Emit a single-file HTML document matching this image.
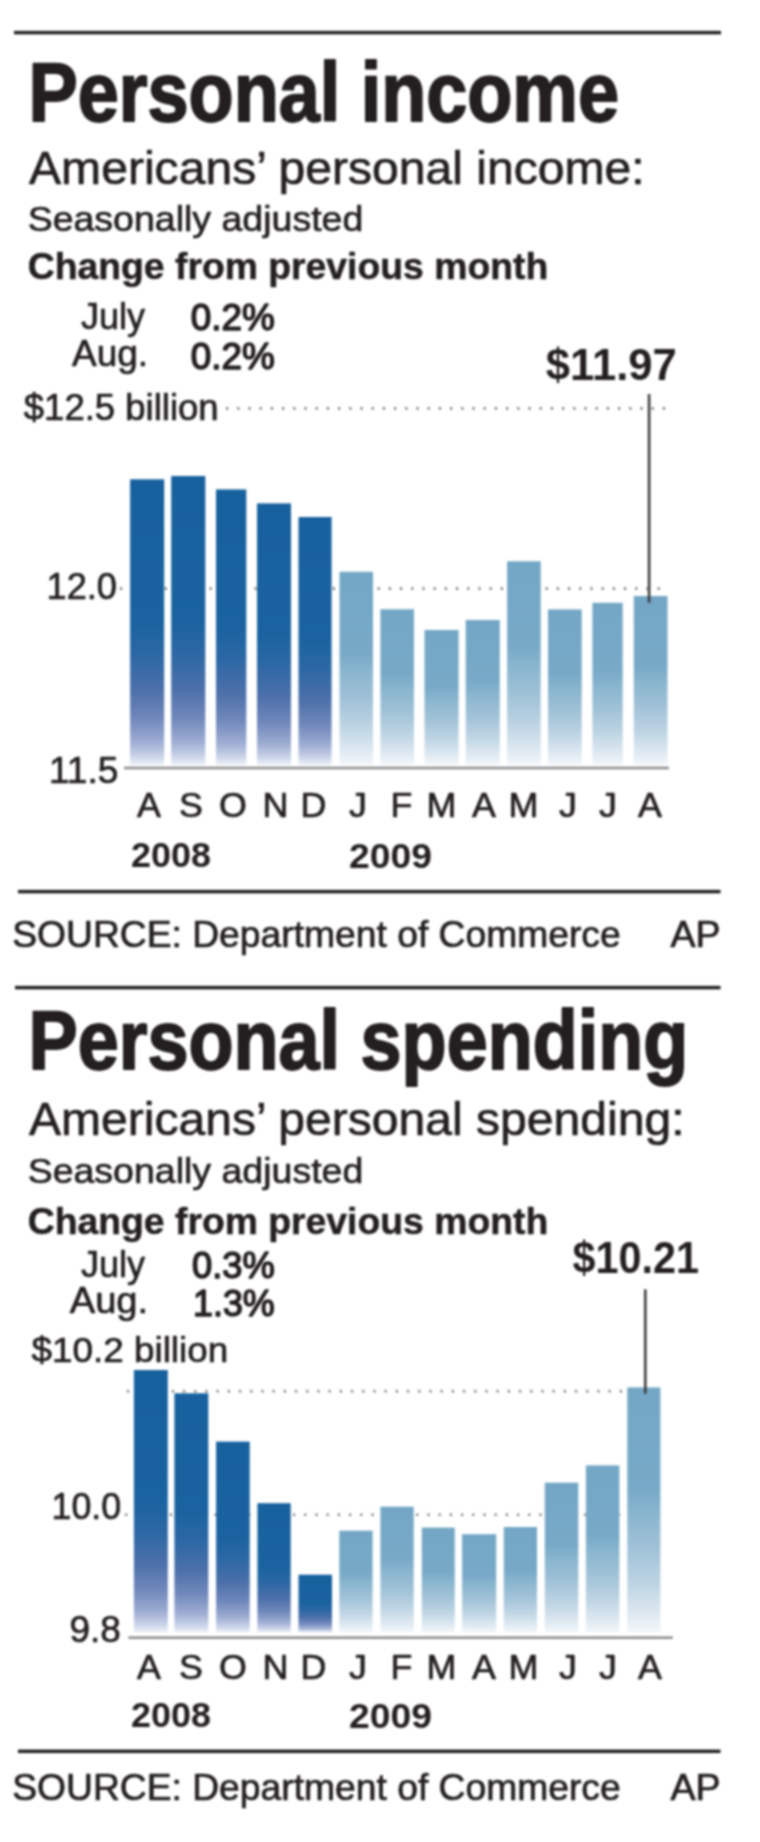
<!DOCTYPE html>
<html><head><meta charset="utf-8"><title>Personal income and spending</title>
<style>
html,body{margin:0;padding:0;background:#fff;}
body{width:760px;height:1842px;overflow:hidden;}
svg{display:block;}
#w{filter:blur(1px);width:760px;height:1842px;}
text{font-family:'Liberation Sans', Arial, Helvetica, sans-serif;fill:#231f20;}
</style></head><body>
<div id="w"><svg width="760" height="1842" viewBox="0 0 760 1842">
<defs>
<linearGradient id="gd" x1="0" y1="0" x2="0" y2="1">
<stop offset="0" stop-color="#17619e"/><stop offset="0.5" stop-color="#1a63a0"/><stop offset="0.62" stop-color="#2d68a5"/>
<stop offset="0.74" stop-color="#4d70aa"/><stop offset="0.84" stop-color="#7189bc"/><stop offset="0.92" stop-color="#9eadd3"/>
<stop offset="0.97" stop-color="#cad3e8"/><stop offset="1" stop-color="#eef2f8"/>
</linearGradient>
<linearGradient id="gl" x1="0" y1="0" x2="0" y2="1">
<stop offset="0" stop-color="#73a7c5"/><stop offset="0.42" stop-color="#78aac8"/><stop offset="0.52" stop-color="#8ab6cf"/>
<stop offset="0.65" stop-color="#9fc1d7"/><stop offset="0.8" stop-color="#bdd4e3"/><stop offset="0.92" stop-color="#dde8f1"/>
<stop offset="1" stop-color="#f3f7fa"/>
</linearGradient>
</defs>
<rect x="14.0" y="30.90" width="707.0" height="3.40" fill="#1e1e1e"/>
<rect x="18.0" y="889.90" width="702.5" height="3.40" fill="#1e1e1e"/>
<rect x="15.0" y="985.90" width="705.5" height="3.40" fill="#1e1e1e"/>
<rect x="18.0" y="1749.60" width="702.5" height="3.40" fill="#1e1e1e"/>
<line x1="120.0" y1="588.6" x2="667.5" y2="588.6" stroke="#7f7f7f" stroke-width="2.6" stroke-dasharray="2.2 9"/>
<rect x="130.1" y="479.3" width="34.1" height="285.7" fill="url(#gd)"/>
<rect x="171.2" y="476.0" width="34.1" height="289.0" fill="url(#gd)"/>
<rect x="216.0" y="489.4" width="30.3" height="275.6" fill="url(#gd)"/>
<rect x="257.0" y="503.4" width="34.0" height="261.6" fill="url(#gd)"/>
<rect x="298.5" y="517.0" width="33.1" height="248.0" fill="url(#gd)"/>
<rect x="339.5" y="571.8" width="33.5" height="193.2" fill="url(#gl)"/>
<rect x="380.4" y="609.2" width="33.6" height="155.8" fill="url(#gl)"/>
<rect x="424.5" y="630.0" width="34.1" height="135.0" fill="url(#gl)"/>
<rect x="465.7" y="620.0" width="34.1" height="145.0" fill="url(#gl)"/>
<rect x="507.1" y="561.3" width="33.6" height="203.7" fill="url(#gl)"/>
<rect x="548.0" y="609.4" width="33.7" height="155.6" fill="url(#gl)"/>
<rect x="592.4" y="602.8" width="30.3" height="162.2" fill="url(#gl)"/>
<rect x="633.8" y="596.0" width="33.7" height="169.0" fill="url(#gl)"/>
<line x1="226.0" y1="408.4" x2="667.5" y2="408.4" stroke="#7f7f7f" stroke-width="2.6" stroke-dasharray="2.2 9"/>
<rect x="124.0" y="766.70" width="545.0" height="2.60" fill="#8f8f8f"/>
<rect x="647.8" y="394" width="2.6" height="208.8" fill="#3c3c3c"/>
<line x1="125.0" y1="1514.8" x2="660.0" y2="1514.8" stroke="#7f7f7f" stroke-width="2.6" stroke-dasharray="2.2 9"/>
<line x1="127.0" y1="1391.3" x2="660.0" y2="1391.3" stroke="#7f7f7f" stroke-width="2.6" stroke-dasharray="2.2 9"/>
<rect x="133.9" y="1370.0" width="33.9" height="262.5" fill="url(#gd)"/>
<rect x="174.4" y="1393.3" width="33.9" height="239.2" fill="url(#gd)"/>
<rect x="216.1" y="1441.6" width="33.6" height="190.9" fill="url(#gd)"/>
<rect x="257.4" y="1503.2" width="33.3" height="129.3" fill="url(#gd)"/>
<rect x="298.5" y="1574.7" width="33.5" height="57.8" fill="url(#gd)"/>
<rect x="339.3" y="1530.7" width="33.3" height="101.8" fill="url(#gl)"/>
<rect x="380.4" y="1506.7" width="33.3" height="125.8" fill="url(#gl)"/>
<rect x="421.8" y="1527.6" width="33.0" height="104.9" fill="url(#gl)"/>
<rect x="462.1" y="1534.2" width="34.1" height="98.3" fill="url(#gl)"/>
<rect x="503.8" y="1527.0" width="33.2" height="105.5" fill="url(#gl)"/>
<rect x="544.8" y="1482.7" width="33.5" height="149.8" fill="url(#gl)"/>
<rect x="585.9" y="1465.4" width="33.5" height="167.1" fill="url(#gl)"/>
<rect x="627.3" y="1387.4" width="33.1" height="245.1" fill="url(#gl)"/>
<rect x="128.3" y="1636.40" width="544.5" height="2.60" fill="#8f8f8f"/>
<rect x="644" y="1289.3" width="2.6" height="104.4" fill="#3c3c3c"/>
<text transform="translate(28.61 120.60) scale(0.8782 1)" font-weight="bold" font-size="84" stroke="#231f20" stroke-width="2" stroke-linejoin="round">Personal income</text>
<text transform="translate(29.00 183.65) scale(1.0347 1)" font-weight="normal" font-size="46.5" stroke="#231f20" stroke-width="0.7" stroke-linejoin="round">Americans’ personal income:</text>
<text transform="translate(27.66 231.15) scale(1.0417 1)" font-weight="normal" font-size="36" stroke="#231f20" stroke-width="0.7" stroke-linejoin="round">Seasonally adjusted</text>
<text transform="translate(27.70 279.25) scale(0.9958 1)" font-weight="bold" font-size="37.5" stroke="#231f20" stroke-width="0.5" stroke-linejoin="round">Change from previous month</text>
<text transform="translate(81.00 329.15) scale(0.9597 1)" font-weight="normal" font-size="37.5" stroke="#231f20" stroke-width="0.7" stroke-linejoin="round">July</text>
<text transform="translate(190.68 330.25) scale(1.0160 1)" font-weight="normal" font-size="36.3" stroke="#231f20" stroke-width="1.5" stroke-linejoin="round">0.2%</text>
<text transform="translate(72.00 366.15) scale(0.9865 1)" font-weight="normal" font-size="37.5" stroke="#231f20" stroke-width="0.7" stroke-linejoin="round">Aug.</text>
<text transform="translate(190.68 368.75) scale(1.0160 1)" font-weight="normal" font-size="36.3" stroke="#231f20" stroke-width="1.5" stroke-linejoin="round">0.2%</text>
<text transform="translate(23.80 420.15) scale(1.0142 1)" font-weight="normal" font-size="36" stroke="#231f20" stroke-width="0.7" stroke-linejoin="round">$12.5 billion</text>
<text transform="translate(545.83 380.00) scale(0.9697 1)" font-weight="bold" font-size="45" stroke="#231f20" stroke-width="0.01" stroke-linejoin="round">$11.97</text>
<text transform="translate(46.53 598.65) scale(0.9826 1)" font-weight="normal" font-size="36.8" stroke="#231f20" stroke-width="0.7" stroke-linejoin="round">12.0</text>
<text transform="translate(48.98 782.85) scale(1.0091 1)" font-weight="normal" font-size="36.8" stroke="#231f20" stroke-width="0.7" stroke-linejoin="round">11.5</text>
<text x="137.00" y="817.05" font-weight="normal" font-size="35.8" stroke="#231f20" stroke-width="0.7" stroke-linejoin="round">A</text>
<text x="179.00" y="817.05" font-weight="normal" font-size="35.8" stroke="#231f20" stroke-width="0.7" stroke-linejoin="round">S</text>
<text x="219.00" y="817.05" font-weight="normal" font-size="35.8" stroke="#231f20" stroke-width="0.7" stroke-linejoin="round">O</text>
<text x="262.50" y="817.05" font-weight="normal" font-size="35.8" stroke="#231f20" stroke-width="0.7" stroke-linejoin="round">N</text>
<text x="300.50" y="817.05" font-weight="normal" font-size="35.8" stroke="#231f20" stroke-width="0.7" stroke-linejoin="round">D</text>
<text x="349.00" y="817.05" font-weight="normal" font-size="35.8" stroke="#231f20" stroke-width="0.7" stroke-linejoin="round">J</text>
<text x="390.50" y="817.05" font-weight="normal" font-size="35.8" stroke="#231f20" stroke-width="0.7" stroke-linejoin="round">F</text>
<text x="426.50" y="817.05" font-weight="normal" font-size="35.8" stroke="#231f20" stroke-width="0.7" stroke-linejoin="round">M</text>
<text x="472.00" y="817.05" font-weight="normal" font-size="35.8" stroke="#231f20" stroke-width="0.7" stroke-linejoin="round">A</text>
<text x="508.50" y="817.05" font-weight="normal" font-size="35.8" stroke="#231f20" stroke-width="0.7" stroke-linejoin="round">M</text>
<text x="559.00" y="817.05" font-weight="normal" font-size="35.8" stroke="#231f20" stroke-width="0.7" stroke-linejoin="round">J</text>
<text x="599.00" y="817.05" font-weight="normal" font-size="35.8" stroke="#231f20" stroke-width="0.7" stroke-linejoin="round">J</text>
<text x="638.00" y="817.05" font-weight="normal" font-size="35.8" stroke="#231f20" stroke-width="0.7" stroke-linejoin="round">A</text>
<text transform="translate(130.97 867.20) scale(1.0263 1)" font-weight="bold" font-size="35" stroke="#231f20" stroke-width="0.01" stroke-linejoin="round">2008</text>
<text transform="translate(348.93 867.70) scale(1.0658 1)" font-weight="bold" font-size="35" stroke="#231f20" stroke-width="0.01" stroke-linejoin="round">2009</text>
<text transform="translate(12.17 947.25) scale(1.0267 1)" font-weight="normal" font-size="36.3" stroke="#231f20" stroke-width="0.7" stroke-linejoin="round">SOURCE: Department of Commerce</text>
<text transform="translate(670.50 947.25) scale(1.0362 1)" font-weight="normal" font-size="36.3" stroke="#231f20" stroke-width="0.7" stroke-linejoin="round">AP</text>
<text transform="translate(28.61 1068.50) scale(0.8780 1)" font-weight="bold" font-size="84" stroke="#231f20" stroke-width="2" stroke-linejoin="round">Personal spending</text>
<text transform="translate(29.00 1135.35) scale(1.0341 1)" font-weight="normal" font-size="46.5" stroke="#231f20" stroke-width="0.7" stroke-linejoin="round">Americans’ personal spending:</text>
<text transform="translate(27.66 1183.05) scale(1.0417 1)" font-weight="normal" font-size="36" stroke="#231f20" stroke-width="0.7" stroke-linejoin="round">Seasonally adjusted</text>
<text transform="translate(27.70 1234.45) scale(0.9958 1)" font-weight="bold" font-size="37.5" stroke="#231f20" stroke-width="0.5" stroke-linejoin="round">Change from previous month</text>
<text transform="translate(81.00 1277.15) scale(0.9597 1)" font-weight="normal" font-size="37.5" stroke="#231f20" stroke-width="0.7" stroke-linejoin="round">July</text>
<text transform="translate(192.00 1278.25) scale(1.0000 1)" font-weight="normal" font-size="36.3" stroke="#231f20" stroke-width="1.5" stroke-linejoin="round">0.3%</text>
<text transform="translate(69.70 1313.15) scale(1.0176 1)" font-weight="normal" font-size="37.5" stroke="#231f20" stroke-width="0.7" stroke-linejoin="round">Aug.</text>
<text transform="translate(193.03 1315.75) scale(0.9875 1)" font-weight="normal" font-size="36.3" stroke="#231f20" stroke-width="1.5" stroke-linejoin="round">1.3%</text>
<text transform="translate(31.60 1362.15) scale(1.0232 1)" font-weight="normal" font-size="36" stroke="#231f20" stroke-width="0.7" stroke-linejoin="round">$10.2 billion</text>
<text transform="translate(572.58 1273.19) scale(0.9193 1)" font-weight="bold" font-size="45" stroke="#231f20" stroke-width="0.01" stroke-linejoin="round">$10.21</text>
<text transform="translate(51.56 1519.45) scale(0.9725 1)" font-weight="normal" font-size="36.8" stroke="#231f20" stroke-width="0.7" stroke-linejoin="round">10.0</text>
<text transform="translate(69.40 1642.15) scale(1.0041 1)" font-weight="normal" font-size="36.8" stroke="#231f20" stroke-width="0.7" stroke-linejoin="round">9.8</text>
<text x="137.00" y="1679.15" font-weight="normal" font-size="35.8" stroke="#231f20" stroke-width="0.7" stroke-linejoin="round">A</text>
<text x="179.00" y="1679.15" font-weight="normal" font-size="35.8" stroke="#231f20" stroke-width="0.7" stroke-linejoin="round">S</text>
<text x="219.00" y="1679.15" font-weight="normal" font-size="35.8" stroke="#231f20" stroke-width="0.7" stroke-linejoin="round">O</text>
<text x="262.50" y="1679.15" font-weight="normal" font-size="35.8" stroke="#231f20" stroke-width="0.7" stroke-linejoin="round">N</text>
<text x="300.50" y="1679.15" font-weight="normal" font-size="35.8" stroke="#231f20" stroke-width="0.7" stroke-linejoin="round">D</text>
<text x="349.00" y="1679.15" font-weight="normal" font-size="35.8" stroke="#231f20" stroke-width="0.7" stroke-linejoin="round">J</text>
<text x="390.50" y="1679.15" font-weight="normal" font-size="35.8" stroke="#231f20" stroke-width="0.7" stroke-linejoin="round">F</text>
<text x="426.50" y="1679.15" font-weight="normal" font-size="35.8" stroke="#231f20" stroke-width="0.7" stroke-linejoin="round">M</text>
<text x="472.00" y="1679.15" font-weight="normal" font-size="35.8" stroke="#231f20" stroke-width="0.7" stroke-linejoin="round">A</text>
<text x="508.50" y="1679.15" font-weight="normal" font-size="35.8" stroke="#231f20" stroke-width="0.7" stroke-linejoin="round">M</text>
<text x="559.00" y="1679.15" font-weight="normal" font-size="35.8" stroke="#231f20" stroke-width="0.7" stroke-linejoin="round">J</text>
<text x="599.00" y="1679.15" font-weight="normal" font-size="35.8" stroke="#231f20" stroke-width="0.7" stroke-linejoin="round">J</text>
<text x="638.00" y="1679.15" font-weight="normal" font-size="35.8" stroke="#231f20" stroke-width="0.7" stroke-linejoin="round">A</text>
<text transform="translate(130.97 1727.29) scale(1.0263 1)" font-weight="bold" font-size="35" stroke="#231f20" stroke-width="0.01" stroke-linejoin="round">2008</text>
<text transform="translate(348.93 1727.79) scale(1.0658 1)" font-weight="bold" font-size="35" stroke="#231f20" stroke-width="0.01" stroke-linejoin="round">2009</text>
<text transform="translate(12.17 1800.25) scale(1.0267 1)" font-weight="normal" font-size="36.3" stroke="#231f20" stroke-width="0.7" stroke-linejoin="round">SOURCE: Department of Commerce</text>
<text transform="translate(670.50 1800.25) scale(1.0362 1)" font-weight="normal" font-size="36.3" stroke="#231f20" stroke-width="0.7" stroke-linejoin="round">AP</text>
</svg></div>
</body></html>
